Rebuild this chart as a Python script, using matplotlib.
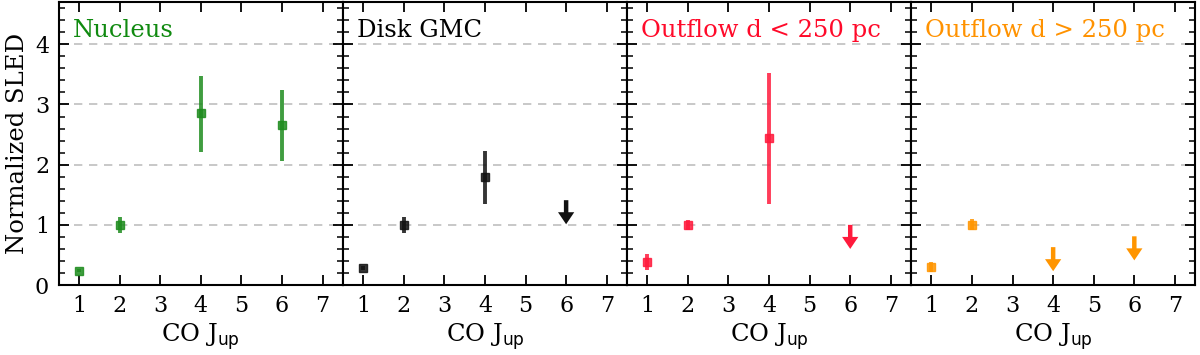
import matplotlib.pyplot as plt
from matplotlib.ticker import MultipleLocator

plt.rcParams['font.family'] = 'DejaVu Serif'
plt.rcParams['mathtext.fontset'] = 'dejavusans'

titles = ['Nucleus', 'Disk GMC', 'Outflow d < 250 pc', 'Outflow d > 250 pc']
colors = ['#1e8c1e', '#111111', '#ff1a3c', '#ff9500']
text_colors = ['#108a10', '#000000', '#ff0a2a', '#ff9200']

# detections: J_up, value, lower error, upper error
det_j = [[1, 2, 4, 6], [1, 2, 4], [1, 2, 4], [1, 2]]
det_val = [[0.24, 1.0, 2.85, 2.66], [0.28, 1.0, 1.79], [0.38, 1.0, 2.44], [0.30, 1.0]]
det_lo = [[0.03, 0.13, 0.64, 0.60], [0.03, 0.14, 0.45], [0.13, 0.09, 1.10], [0.09, 0.09]]
det_hi = [[0.03, 0.13, 0.62, 0.58], [0.03, 0.13, 0.43], [0.14, 0.08, 1.08], [0.09, 0.09]]

# upper limits: J_up, limit value
ul_j = [[], [6], [6], [4, 6]]
ul_val = [[], [1.41], [1.0], [0.63, 0.81]]
arrow_len = 0.4

fig, axes = plt.subplots(1, 4, figsize=(12, 3.55), dpi=100, sharey=True)
fig.subplots_adjust(left=0.049, right=0.996, top=0.994, bottom=0.197, wspace=0)

for i, ax in enumerate(axes):
    c = colors[i]
    ax.errorbar(det_j[i], det_val[i], yerr=[det_lo[i], det_hi[i]], fmt='s',
                color=c, ms=6, elinewidth=2.8, capsize=0, alpha=0.85, zorder=3)
    for j, v in zip(ul_j[i], ul_val[i]):
        ax.arrow(j, v, 0, -arrow_len, width=0.11, head_width=0.4, head_length=0.2,
                 length_includes_head=True, color=c, lw=0, zorder=3)
    ax.text(0.05, 0.876, titles[i], transform=ax.transAxes, color=text_colors[i],
            fontsize=17.5, va='baseline', ha='left')
    for yy in [1, 2, 3, 4]:
        ax.axhline(yy, color='0.75', ls=(0, (5, 4)), lw=1.2, zorder=1)
    ax.set_xlim(0.5, 7.5)
    ax.set_ylim(0, 4.7)
    ax.set_xticks([1, 2, 3, 4, 5, 6, 7])
    ax.yaxis.set_major_locator(MultipleLocator(1))
    ax.yaxis.set_minor_locator(MultipleLocator(0.2))
    ax.tick_params(which='both', direction='in', top=True, right=True, labelsize=16, pad=7)
    ax.tick_params(which='major', length=7, width=1.3)
    ax.tick_params(which='minor', length=4, width=1.1)
    ax.tick_params(axis='x', which='minor', bottom=False, top=False)
    for s in ax.spines.values():
        s.set_linewidth(1.5)
    ax.set_xlabel('CO J$_{\\rm up}$', fontsize=17.5, labelpad=3)

axes[0].set_ylabel('Normalized SLED', fontsize=17.5, labelpad=4)

fig.savefig('out.png')
